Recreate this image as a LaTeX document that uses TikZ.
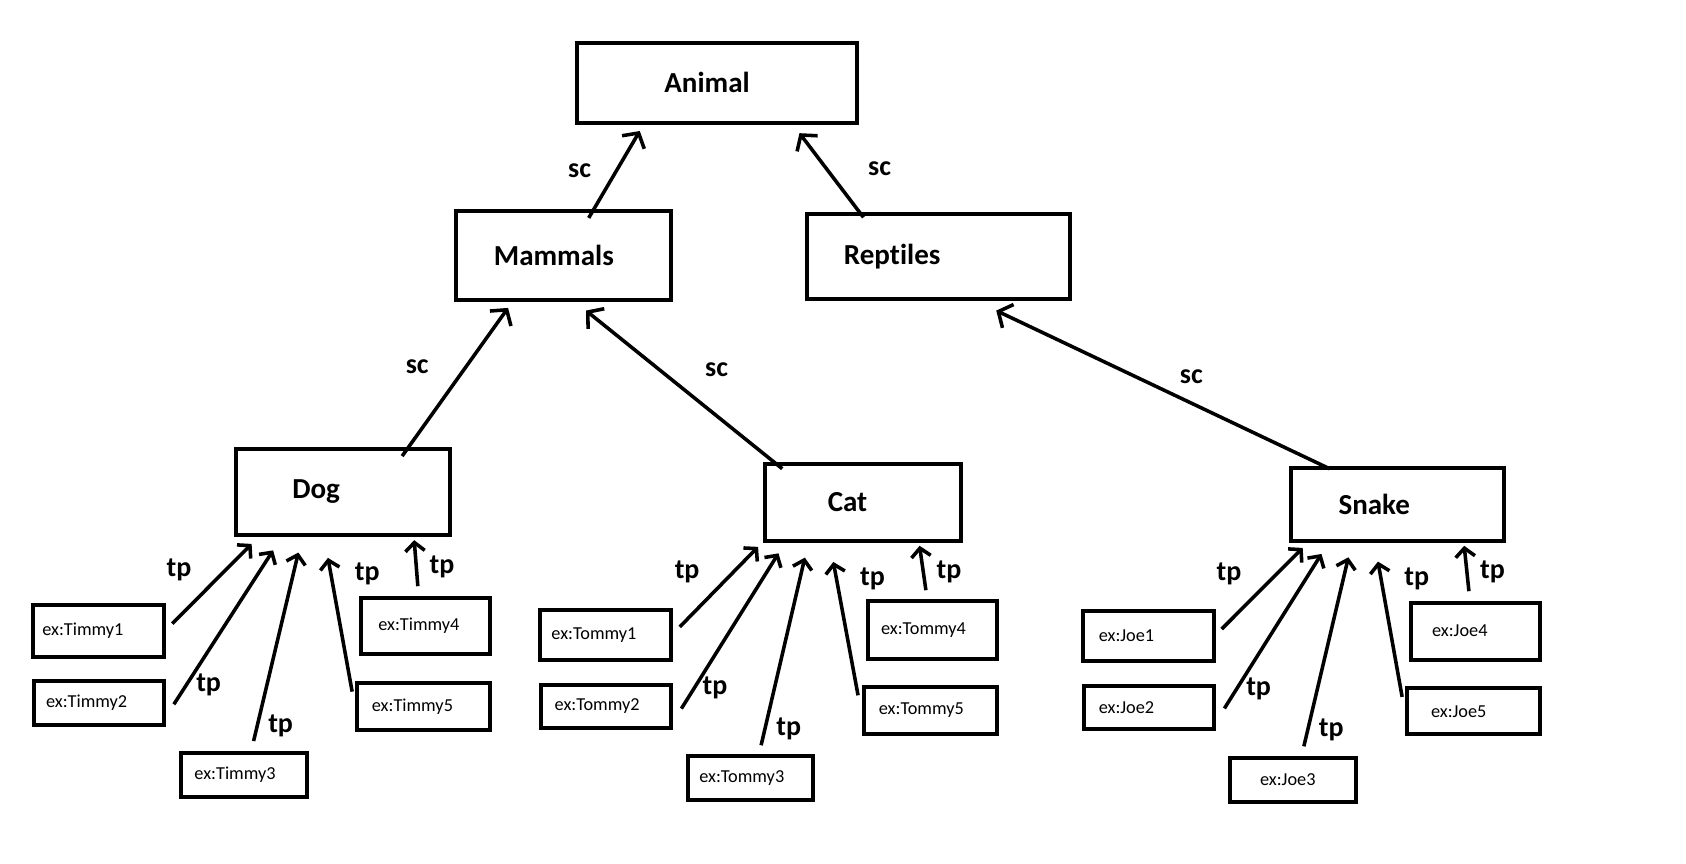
\documentclass[tikz,border=0pt]{standalone}
\usepackage{fontspec}
\setmainfont{Carlito}[Ligatures=NoCommon]
\usepackage{tikz}
\usetikzlibrary{arrows.meta}

\begin{document}
\begin{tikzpicture}[x=1pt,y=-1pt,
  classbox/.style={draw, line width=3.7pt, anchor=west, align=left, inner ysep=0pt, font=\fontsize{27}{32}\bfseries},
  exbox/.style={draw, line width=3.7pt, anchor=west, align=left, inner ysep=0pt, font=\fontsize{17}{20}\selectfont},
  lbl/.style={inner sep=0pt, font=\fontsize{26}{30}\bfseries},
  scarrow/.style={-{Straight Barb[length=10pt,width=24pt]}, line width=3.3pt},
  tparrow/.style={-{Straight Barb[length=8pt,width=18pt]}, line width=3.3pt}]
  \useasboundingbox (0,0) rectangle (1568,803.5);
  \node[classbox, minimum height=74pt, text width=98pt, inner xsep=81pt] (animal) at (535,77) {Animal};
  \node[classbox, minimum height=83pt, text width=130pt, inner xsep=35pt] (mammals) at (422.5,237.5) {Mammals};
  \node[classbox, minimum height=79pt, text width=176pt, inner xsep=34pt] (reptiles) at (749,238.5) {Reptiles};
  \node[classbox, minimum height=80pt, text width=94pt, inner xsep=52.5pt] (dog) at (217.5,457.5) {Dog};
  \node[classbox, minimum height=71.5pt, text width=65.5pt, inner xsep=58pt] (cat) at (710,467) {Cat};
  \node[classbox, minimum height=67.5pt, text width=109.5pt, inner xsep=44pt] (snake) at (1199,469) {Snake};
  \node[exbox, minimum height=47.6pt, text width=105pt, inner xsep=8.5pt] (timmy1) at (29,586.8) {ex:Timmy1};
  \node[exbox, minimum height=41pt, text width=99pt, inner xsep=11pt] (timmy2) at (30,653.5) {ex:Timmy2};
  \node[exbox, minimum height=41pt, text width=92pt, inner xsep=12.5pt] (timmy3) at (166.5,720.5) {ex:Timmy3};
  \node[exbox, minimum height=52pt, text width=87.5pt, inner xsep=16pt] (timmy4) at (334,582) {ex:Timmy4};
  \node[exbox, minimum height=43.5pt, text width=95.5pt, inner xsep=14pt] (timmy5) at (330,656.8) {ex:Timmy5};
  \node[exbox, minimum height=47pt, text width=100.5pt, inner xsep=11pt] (tommy1) at (500,590.5) {ex:Tommy1};
  \node[exbox, minimum height=40pt, text width=95.5pt, inner xsep=13pt] (tommy2) at (501,657) {ex:Tommy2};
  \node[exbox, minimum height=41.5pt, text width=95pt, inner xsep=10.5pt] (tommy3) at (638,723.7) {ex:Tommy3};
  \node[exbox, minimum height=53.5pt, text width=95.5pt, inner xsep=12.5pt] (tommy4) at (805,586) {ex:Tommy4};
  \node[exbox, minimum height=44pt, text width=96pt, inner xsep=14pt] (tommy5) at (801.5,660.5) {ex:Tommy5};
  \node[exbox, minimum height=47pt, text width=92.5pt, inner xsep=15pt] (joe1) at (1005,591.5) {ex:Joe1};
  \node[exbox, minimum height=40.4pt, text width=94pt, inner xsep=13.5pt] (joe2) at (1006.5,657.8) {ex:Joe2};
  \node[exbox, minimum height=40.5pt, text width=61.5pt, inner xsep=27.5pt] (joe3) at (1142.5,725.2) {ex:Joe3};
  \node[exbox, minimum height=52.7pt, text width=80.5pt, inner xsep=20pt] (joe4) at (1310,587) {ex:Joe4};
  \node[exbox, minimum height=43pt, text width=79pt, inner xsep=22.5pt] (joe5) at (1306.5,661.5) {ex:Joe5};
  \draw[scarrow] ([xshift=125pt,yshift=-8.5pt]mammals.north west) -- ([xshift=60pt,yshift=-6pt]animal.south west);
  \draw[scarrow] ([xshift=54pt,yshift=-5pt]reptiles.north west) -- ([xshift=208.5pt,yshift=-8pt]animal.south west);
  \draw[scarrow] ([xshift=156.5pt,yshift=-8.5pt]dog.north west) -- ([xshift=50pt,yshift=-5.5pt]mammals.south west);
  \draw[scarrow] ([xshift=17.5pt,yshift=-6.5pt]cat.north west) -- ([xshift=122.5pt,yshift=-8pt]mammals.south west);
  \draw[scarrow] ([xshift=37.5pt,yshift=-2.5pt]snake.north west) -- ([xshift=177.5pt,yshift=-9pt]reptiles.south west);
  \draw[tparrow] ([xshift=5.5pt,yshift=6.8pt]timmy1.east) -- ([xshift=16.5pt,yshift=-6.5pt]dog.south west);
  \draw[tparrow] ([xshift=7pt,yshift=-1.5pt]timmy2.east) -- ([xshift=36.5pt,yshift=-12.5pt]dog.south west);
  \draw[tparrow] ([xshift=9pt,yshift=9pt]timmy3.north) -- ([xshift=60pt,yshift=-14.5pt]dog.south west);
  \draw[tparrow] ([xshift=-2.5pt,yshift=-10pt]timmy5.north west) -- ([xshift=87.5pt,yshift=-19.5pt]dog.south west);
  \draw[tparrow] ([xshift=-7pt,yshift=9pt]timmy4.north) -- ([xshift=-35pt,yshift=-3pt]dog.south east);
  \draw[tparrow] ([xshift=6pt,yshift=7.5pt]tommy1.east) -- ([xshift=-5pt,yshift=-4pt]cat.south west);
  \draw[tparrow] ([xshift=7.5pt,yshift=-2pt]tommy2.east) -- ([xshift=14pt,yshift=-10pt]cat.south west);
  \draw[tparrow] ([xshift=10pt,yshift=8pt]tommy3.north) -- ([xshift=38.5pt,yshift=-14pt]cat.south west);
  \draw[tparrow] ([xshift=-3.5pt,yshift=-10pt]tommy5.north west) -- ([xshift=65pt,yshift=-18pt]cat.south west);
  \draw[tparrow] ([xshift=-6pt,yshift=8.5pt]tommy4.north) -- ([xshift=-40pt,yshift=-3pt]cat.south east);
  \draw[tparrow] ([xshift=5pt,yshift=6.5pt]joe1.east) -- ([xshift=12.5pt,yshift=-5pt]snake.south west);
  \draw[tparrow] ([xshift=7.5pt,yshift=-1pt]joe2.east) -- ([xshift=30pt,yshift=-10.6pt]snake.south west);
  \draw[tparrow] ([xshift=10pt,yshift=9pt]joe3.north) -- ([xshift=55pt,yshift=-13.7pt]snake.south west);
  \draw[tparrow] ([xshift=-2.5pt,yshift=-10pt]joe5.north west) -- ([xshift=82.5pt,yshift=-17.7pt]snake.south west);
  \draw[tparrow] ([xshift=-6pt,yshift=9pt]joe4.north) -- ([xshift=-38.5pt,yshift=-3pt]snake.south east);
  \node[lbl] (sc1) at (539,159) {sc};
  \node[lbl] (sc2) at (818,156.5) {sc};
  \node[lbl] (sc3) at (388,341) {sc};
  \node[lbl] (sc4) at (666.5,344) {sc};
  \node[lbl] (sc5) at (1108,350) {sc};
  \node[lbl] (tp1) at (166.5,530) {tp};
  \node[lbl] (tp2) at (194,637) {tp};
  \node[lbl] (tp3) at (261,675) {tp};
  \node[lbl] (tp4) at (341.5,534) {tp};
  \node[lbl] (tp5) at (411,527.5) {tp};
  \node[lbl] (tp6) at (639,532) {tp};
  \node[lbl] (tp7) at (665,640) {tp};
  \node[lbl] (tp8) at (733.5,678) {tp};
  \node[lbl] (tp9) at (811.5,538) {tp};
  \node[lbl] (tp10) at (882.5,531.6) {tp};
  \node[lbl] (tp11) at (1143,534) {tp};
  \node[lbl] (tp12) at (1170.5,640.7) {tp};
  \node[lbl] (tp13) at (1238,679) {tp};
  \node[lbl] (tp14) at (1317.5,538) {tp};
  \node[lbl] (tp15) at (1388,532) {tp};
\end{tikzpicture}
\end{document}
